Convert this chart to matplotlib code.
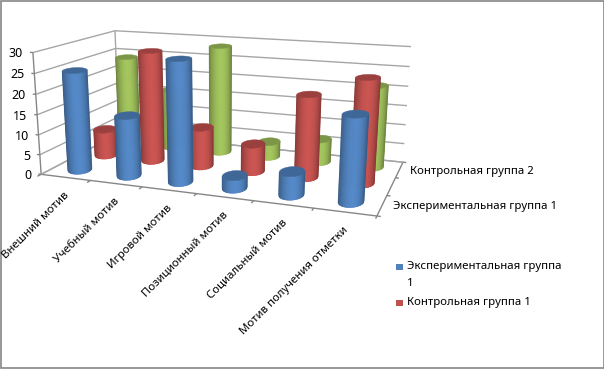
import numpy as np
import matplotlib
matplotlib.use('Agg')
import matplotlib.pyplot as plt
from matplotlib.collections import PolyCollection
from matplotlib.patches import Rectangle
from matplotlib.colors import to_rgb

categories = ['Внешний мотив', 'Учебный мотив', 'Игровой мотив',
              'Позиционный мотив', 'Социальный мотив', 'Мотив получения отметки']
exp_group_1 = [25, 15, 29.5, 3, 5.5, 20]
control_group_1 = [7, 28.5, 10, 7, 20.5, 25.5]
control_group_2 = [24, 16, 28.5, 4, 6, 21]
z_ticks = [0, 5, 10, 15, 20, 25, 30]
series_names = ['Экспериментальная группа 1', 'Контрольная группа 1', 'Контрольная группа 2']
colors = ['#4F81BD', '#C0504D', '#9BBB59']

plt.rcParams['font.family'] = ['Noto Sans', 'DejaVu Sans']

# углы коробки графика: (категория, ряд, значение) -> пиксели картинки
box_3d = [(0, 0, 0), (6, 0, 0), (6, 3, 0), (0, 3, 0), (0, 0, 30), (6, 3, 30), (0, 3, 30)]
box_px = [(41, 173), (377, 217), (403, 161), (119, 135), (33, 53), (411, 47), (115, 30)]

rows = []
rhs = []
for (X, Y, Z), (u, v) in zip(box_3d, box_px):
    rows.append([X, Y, Z, 1, 0, 0, 0, 0, -u * X, -u * Y, -u * Z])
    rhs.append(u)
    rows.append([0, 0, 0, 0, X, Y, Z, 1, -v * X, -v * Y, -v * Z])
    rhs.append(v)
h = np.linalg.lstsq(np.array(rows, float), np.array(rhs, float), rcond=None)[0]
P = np.append(h, 1).reshape(3, 4)


def project(x, y, z):
    x, y, z = np.broadcast_arrays(x, y, z)
    p = P @ np.vstack([x.ravel(), y.ravel(), z.ravel(), np.ones(x.size)])
    return p[0] / p[2], p[1] / p[2]


def line3d(ax, a, b, color='#a6a6a6', lw=1.0):
    xs, ys = project([a[0], b[0]], [a[1], b[1]], [a[2], b[2]])
    ax.plot(xs, ys, color=color, lw=lw, zorder=1, solid_capstyle='butt')


def shade(color, k):
    c = np.array(to_rgb(color))
    return tuple(np.clip(c * k, 0, 1))


def front_arc(xs, ys, n=40):
    # нижняя на экране дуга эллипса, от левой точки до правой
    xs, ys = xs[:-1], ys[:-1]
    i0 = np.argmin(xs)
    xs, ys = np.roll(xs, -i0), np.roll(ys, -i0)
    i1 = np.argmax(xs)
    arcs = [(xs[:i1 + 1], ys[:i1 + 1]),
            (np.append(xs[i1:], xs[0])[::-1], np.append(ys[i1:], ys[0])[::-1])]
    ax_, ay_ = max(arcs, key=lambda a: a[1].mean())
    ux = np.linspace(ax_[0], ax_[-1], n)
    return ux, np.interp(ux, ax_, ay_)


def cylinder(ax, x0, y0, value, color, rx=0.195, ry=0.27):
    t = np.linspace(0, 2 * np.pi, 121)
    # сдвиги убирают наклон эллипса на экране
    skew_x = 0.12 - 0.014 * x0
    cx = x0 + rx * np.cos(t) - skew_x * np.sin(t)
    cy = y0 + ry * np.sin(t) + 0.09 * np.cos(t)
    bx, by = project(cx, cy, 0)
    tx, ty = project(cx, cy, value)
    bax, bay = front_arc(bx, by)
    tax, tay = front_arc(tx, ty)
    quads = []
    face = []
    for i in range(len(bax) - 1):
        quads.append([(bax[i], bay[i]), (bax[i + 1], bay[i + 1]), (tax[i + 1], tay[i + 1]), (tax[i], tay[i])])
        u = (i + 0.5) / (len(bax) - 1)
        face.append(shade(color, 0.66 + 0.40 * np.sin(np.pi * u ** 1.15) ** 0.6))
    ax.add_collection(PolyCollection(quads, facecolors=face, edgecolors=face, linewidths=0.4, zorder=3))
    ax.fill(tx, ty, color=shade(color, 0.8), lw=0.3, zorder=3)


fig = plt.figure(figsize=(6.04, 3.69), dpi=100)
ax = fig.add_axes([0, 0, 1, 1])
ax.set_xlim(0, 604)
ax.set_ylim(369, 0)
ax.axis('off')

ax.add_patch(Rectangle((0.5, 0.5), 603, 367.5, fill=False, ec='#868686', lw=1.2))

# стенки и пол
for z in z_ticks:
    line3d(ax, (0, 0, z), (0, 3, z))
    line3d(ax, (0, 3, z), (6, 3, z))
line3d(ax, (0, 3, 0), (0, 3, 30))
line3d(ax, (0, 0, 0), (0, 0, 30), '#868686')
line3d(ax, (0, 0, 0), (6, 0, 0), '#868686')
line3d(ax, (6, 0, 0), (6, 3, 0), '#868686')
line3d(ax, (0, 0, 0), (0, 3, 0))
line3d(ax, (6, 3, 0), (0, 3, 0))

for i in range(7):
    line3d(ax, (i, 0, 0), (i, -0.12, 0), '#868686')
for i in range(4):
    line3d(ax, (6, i, 0), (6.06, i, 0), '#868686')
for z in z_ticks:
    line3d(ax, (0, 0, z), (-0.06, 0, z), '#868686')

# сначала дальний ряд, потом ближние
for row, values in [(2, control_group_2), (1, control_group_1), (0, exp_group_1)]:
    for i, v in enumerate(values):
        cylinder(ax, i + 0.5, row + 0.5, v, colors[row])

for z in z_ticks:
    px, py = project(0, 0, z)
    ax.annotate(str(z), (px[0], py[0]), xytext=(-7, -1), textcoords='offset points',
                ha='right', va='center', fontsize=9, color='black')

for i, name in enumerate(categories):
    px, py = project(i + 0.5, 0, 0)
    ax.annotate(name, (px[0], py[0]), xytext=(-1.5, -9), textcoords='offset points',
                rotation=45, rotation_mode='anchor', ha='right', va='top', fontsize=8.2, color='black')

for row in [0, 2]:
    px, py = project(6, row + 0.5, 0)
    ax.annotate(series_names[row], (px[0], py[0]), xytext=(8, -1), textcoords='offset points',
                ha='left', va='center', fontsize=8.2, color='black')

# легенда: зелёного ряда в ней нет
ax.add_patch(Rectangle((396, 263.5), 7, 6.5, color=colors[0], lw=0))
ax.text(407, 267, 'Экспериментальная группа', ha='left', va='center', fontsize=8.2)
ax.text(407, 283, '1', ha='left', va='center', fontsize=8.2)
ax.add_patch(Rectangle((396, 299.5), 7, 6.5, color=colors[1], lw=0))
ax.text(407, 303, 'Контрольная группа 1', ha='left', va='center', fontsize=8.2)

fig.savefig('out.png', dpi=100)
